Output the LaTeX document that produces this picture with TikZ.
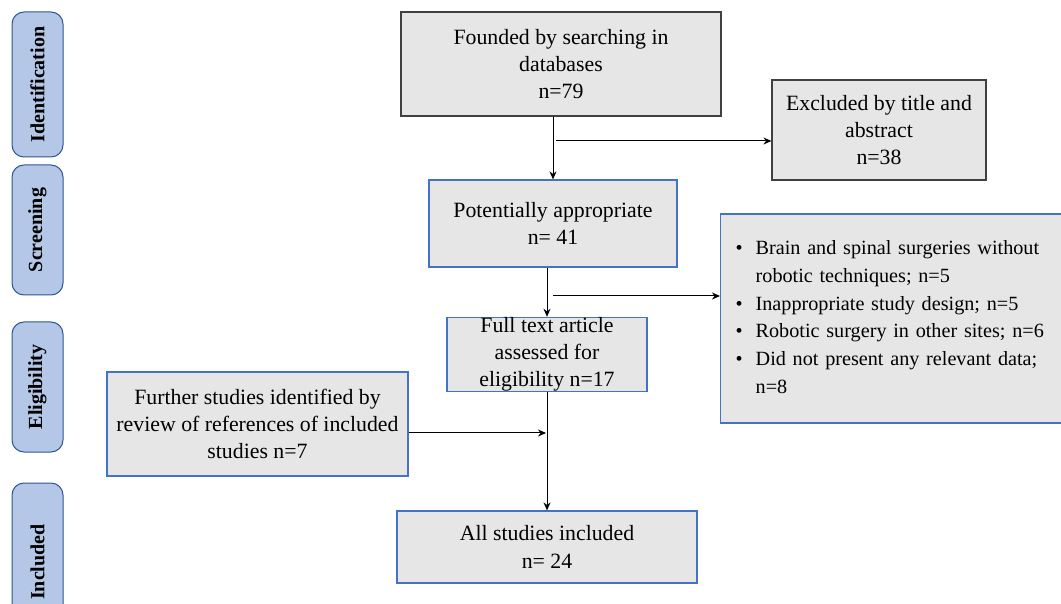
\documentclass[tikz,border=0pt]{standalone}
\usepackage{fontspec}
\setmainfont{Liberation Serif}
\usetikzlibrary{arrows.meta}
\definecolor{boxgray}{RGB}{231,230,230}
\definecolor{boxblue}{RGB}{68,114,196}
\definecolor{phasefill}{RGB}{180,199,231}
\definecolor{phaseline}{RGB}{47,85,151}
\definecolor{darkline}{RGB}{64,64,64}
\begin{document}
\begin{tikzpicture}[x=0.5pt,y=-0.5pt,
  every node/.style={font=\fontsize{10.9}{13.6}\selectfont, inner sep=0pt},
  graybox/.style={draw=darkline, fill=boxgray, line width=0.6pt, align=center},
  bluebox/.style={draw=boxblue, fill=boxgray, line width=0.6pt, align=center},
  phase/.style={draw=phaseline, fill=phasefill, line width=0.5pt, rounded corners=6pt,
    minimum width=25.5pt, font=\fontsize{10}{12}\selectfont\bfseries},
  arr/.style={draw=black, line width=0.5pt, -{Stealth[length=4pt,width=3.5pt]}}]
\useasboundingbox (0,0) rectangle (1061,604);
% phase labels
\node[phase, minimum height=72.5pt] (ident) at (37.5,84.5) {\rotatebox{90}{Identification}};
\node[phase, minimum height=65pt] (screen) at (37.5,230) {\rotatebox{90}{Screening}};
\node[phase, minimum height=65pt] (elig) at (37.5,387) {\rotatebox{90}{Eligibility}};
\node[phase, minimum height=79pt] (incl) at (37.5,562) {\rotatebox{90}{Included}};
% main boxes
\node[graybox, minimum width=160pt, minimum height=52pt] (found) at (561,64)
  {Founded by searching in\\databases\\n=79};
\node[graybox, minimum width=107pt, minimum height=50pt] (excl) at (879,130)
  {Excluded by title and\\abstract\\n=38};
\node[bluebox, minimum width=124pt, minimum height=43.5pt] (pot) at (553,223.5)
  {Potentially appropriate\\n= 41};
\node[bluebox, minimum width=100pt, minimum height=36.5pt] (full) at (547,354.5)
  {Full text article\\assessed for\\eligibility n=17};
\node[bluebox, minimum height=104.5pt, text width=163.5pt, inner xsep=7.5pt, align=left,
  anchor=west, font=\fontsize{10.1}{13.9}\selectfont] (reasons) at (720,318.5)
  {\begin{tabular}{@{}l@{\hspace{6.5pt}}l@{}}
   \textbullet & Brain and spinal surgeries without\\
   & robotic techniques; n=5\\
   \textbullet & Inappropriate study design; n=5\\
   \textbullet & Robotic surgery in other sites; n=6\\
   \textbullet & Did not present any relevant data;\\
   & n=8
   \end{tabular}};
\node[bluebox, minimum width=150.5pt, minimum height=52pt] (further) at (257.5,424)
  {Further studies identified by\\review of references of included\\studies n=7};
\node[bluebox, minimum width=150pt, minimum height=36pt] (all) at (547,547)
  {All studies included\\n= 24};
% connectors
\draw[arr] (found.south -| pot.north) -- (pot.north);
\coordinate (c1) at (556,141);
\draw[arr] (c1) -- (c1 -| excl.west);
\draw[arr] (pot.south -| full.north) -- (full.north);
\coordinate (c2) at (553,296);
\draw[arr] (c2) -- (c2 -| reasons.west);
\draw[arr] (full.south) -- (all.north);
\coordinate (c3) at (546,433);
\draw[arr] (further.east |- c3) -- (c3);
\end{tikzpicture}
\end{document}
